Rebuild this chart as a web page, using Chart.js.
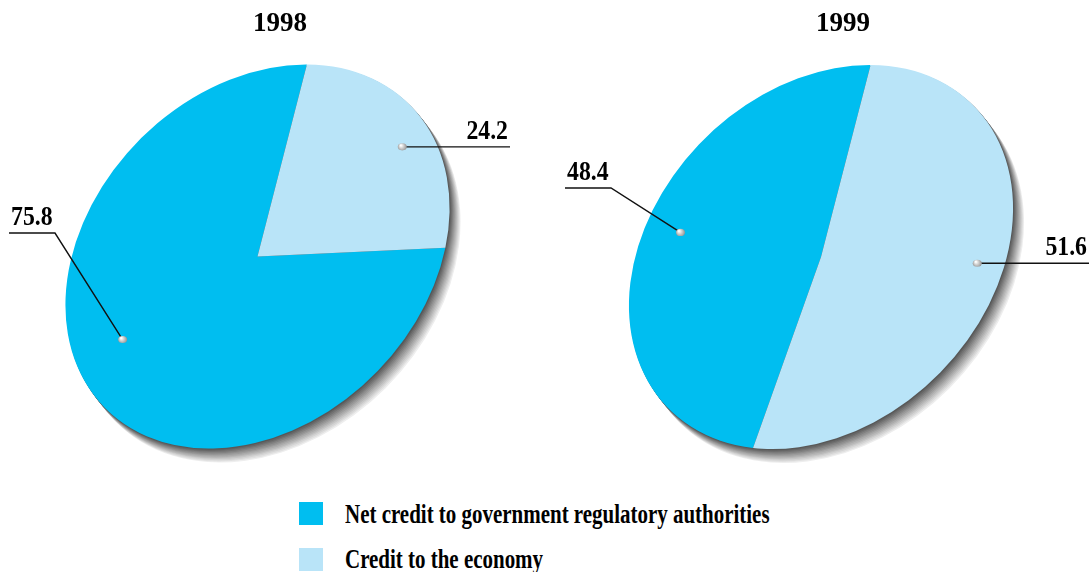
<!DOCTYPE html>
<html><head><meta charset="utf-8">
<script src="https://cdn.jsdelivr.net/npm/chart.js@4.4.0/dist/chart.umd.min.js"></script>
<style>
html,body{margin:0;padding:0;background:#fff;overflow:hidden;}
#wrap{position:relative;width:1089px;height:572px;}
canvas{position:absolute;top:0;}
.sw{position:absolute;left:299px;width:24px;height:23px;}
.lt{position:absolute;left:345px;font:bold 27px "Liberation Serif";line-height:27px;white-space:nowrap;transform:scaleX(0.776);transform-origin:0 0;color:#000;}
</style></head>
<body><div id="wrap">
<canvas id="c1" width="560" height="490" style="left:0px"></canvas>
<canvas id="c2" width="544" height="490" style="left:545px"></canvas>
<div id="legend"></div>
</div>
<script>
// ---- data ----
const categories = ['Net credit to government regulatory authorities', 'Credit to the economy'];
const years = ['1998', '1999'];
const values1998 = [75.8, 24.2];
const values1999 = [48.4, 51.6];
const colors = ['#00BEF0', '#B9E4F8'];

// ---- ellipse / shadow / label plugin ----
function mapPt(m, x, y) { const p = m.transformPoint(new DOMPoint(x, y)); return [p.x, p.y]; }

const ellipsePie = {
  id: 'ellipsePie',
  beforeDatasetsDraw(chart, args, o) {
    const arc0 = chart.getDatasetMeta(0).data[0];
    const cx = arc0.x, cy = arc0.y, r = arc0.outerRadius;
    const m = new DOMMatrix().translate(o.cx - o.offsetX, o.cy).rotate(o.angle).scale(o.a / r, o.b / r).translate(-cx, -cy);
    chart.$m = m;
    const ctx = chart.ctx;
    const N = 12;
    for (let i = N; i >= 1; i--) {
      ctx.save();
      ctx.translate(i * o.shadow[0] / N, i * o.shadow[1] / N);
      ctx.transform(m.a, m.b, m.c, m.d, m.e, m.f);
      ctx.beginPath();
      ctx.arc(cx, cy, r, 0, Math.PI * 2);
      const g = Math.round(88 + (i - 1) / (N - 1) * (238 - 88));
      ctx.fillStyle = `rgb(${g},${g},${g})`;
      ctx.fill();
      ctx.restore();
    }
    ctx.save();
    ctx.transform(m.a, m.b, m.c, m.d, m.e, m.f);
  },
  afterDatasetsDraw(chart, args, o) {
    const ctx = chart.ctx;
    ctx.restore();
    const m = chart.$m;
    const meta = chart.getDatasetMeta(0);
    const vals = chart.data.datasets[0].data;
    meta.data.forEach((arc, i) => {
      const L = o.labels[i];
      const mid = (arc.startAngle + arc.endAngle) / 2 + L.nudge * Math.PI / 180;
      const rr = arc.outerRadius * L.k;
      const [dx, dy] = mapPt(m, arc.x + rr * Math.cos(mid), arc.y + rr * Math.sin(mid));
      const off = o.offsetX;
      ctx.save();
      ctx.strokeStyle = '#111';
      ctx.lineWidth = 1.4;
      let lineY, textX, align;
      ctx.beginPath();
      ctx.moveTo(dx, dy);
      if (L.elbow) {
        const ex = L.elbow[0] - off, ey = L.elbow[1];
        ctx.lineTo(ex, ey);
        ctx.lineTo(L.end - off, ey);
        lineY = ey; textX = L.end - off + 2; align = 'left';
      } else {
        ctx.lineTo(L.end - off, dy);
        lineY = dy; textX = L.end - off - 2; align = 'right';
      }
      ctx.stroke();
      // dot
      const grad = ctx.createRadialGradient(dx - 1.5, dy - 1.5, 0.5, dx, dy, 5);
      grad.addColorStop(0, '#ffffff');
      grad.addColorStop(1, '#8a8a8a');
      ctx.fillStyle = grad;
      ctx.beginPath();
      ctx.ellipse(dx, dy, 4.5, 3.6, 0, 0, Math.PI * 2);
      ctx.fill();
      // text
      ctx.translate(textX, lineY - 8);
      ctx.scale(0.88, 1);
      ctx.font = 'bold 27px "Liberation Serif"';
      ctx.fillStyle = '#000';
      ctx.textAlign = align;
      ctx.textBaseline = 'alphabetic';
      ctx.fillText(vals[i].toFixed(1), 0, 0);
      ctx.restore();
    });
  }
};

function makePie(id, year, values, rotation, padLeft, plugOpts) {
  return new Chart(document.getElementById(id), {
    type: 'pie',
    data: {
      labels: categories,
      datasets: [{ data: values, backgroundColor: colors, borderWidth: 0, clip: false }]
    },
    options: {
      responsive: false,
      animation: false,
      events: [],
      rotation: rotation,
      layout: { padding: { left: padLeft, top: 0, bottom: 40 } },
      plugins: {
        legend: { display: false },
        tooltip: { enabled: false },
        title: {
          display: true, text: year, color: '#000',
          font: { family: 'Liberation Serif', weight: 'bold', size: 27, lineHeight: 1.2 },
          padding: { top: 8, bottom: 10 }
        },
        ellipsePie: plugOpts
      }
    },
    plugins: [ellipsePie]
  });
}

makePie('c1', years[0], values1998, 139.7, 0, {
  offsetX: 0, cx: 257.5, cy: 256.5, a: 215, b: 166, angle: -45, shadow: [11, 14],
  labels: [{ nudge: 11, k: 0.75, elbow: [55, 233], end: 9 }, { nudge: 4, k: 0.85, end: 510 }]
});
makePie('c2', years[1], values1999, 238.4, 52, {
  offsetX: 545, cx: 821, cy: 257, a: 215, b: 166, angle: -45, shadow: [11, 14],
  labels: [{ nudge: 6, k: 0.8, elbow: [611, 188], end: 565 }, { nudge: -1, k: 0.85, end: 1089 }]
});

// ---- legend ----
const lg = document.getElementById('legend');
categories.forEach((c, i) => {
  const sw = document.createElement('div');
  sw.className = 'sw'; sw.style.top = (502 + i * 46) + 'px'; sw.style.background = colors[i];
  lg.appendChild(sw);
  const t = document.createElement('div');
  t.className = 'lt'; t.style.top = (500.5 + i * 45) + 'px'; t.textContent = c;
  lg.appendChild(t);
});
</script>
</body></html>
